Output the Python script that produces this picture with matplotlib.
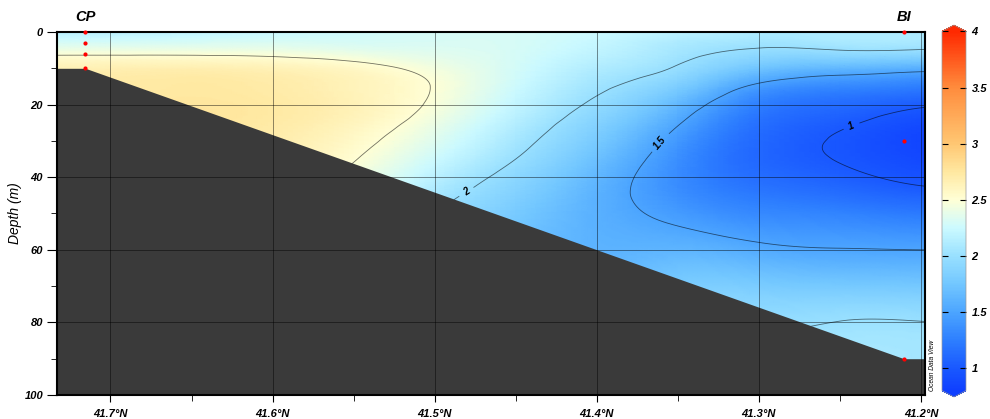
import numpy as np
import matplotlib
matplotlib.use("Agg")
import matplotlib.pyplot as plt
import matplotlib.tri as mtri
from matplotlib.colors import LinearSegmentedColormap, Normalize
from matplotlib.cm import ScalarMappable
from matplotlib.ticker import MultipleLocator

plt.rcParams['font.family'] = ['Liberation Sans', 'DejaVu Sans']
plt.rcParams['font.style'] = 'italic'
plt.rcParams['font.weight'] = 'bold'

# section grid (latitude columns, depth rows)
lats = [41.75, 41.70, 41.65, 41.60, 41.55, 41.50, 41.45, 41.40, 41.35, 41.30, 41.25, 41.20, 41.15]
depths = [0, 5, 10, 15, 20, 25, 30, 35, 40, 45, 50, 60, 70, 80, 90, 100]

profiles = [
    [2.15, 2.42, 2.64, 2.70, 2.72, 2.72, 2.71, 2.70, 2.69, 2.68, 2.66, 2.62, 2.58, 2.55, 2.52, 2.50],
    [2.17, 2.42, 2.66, 2.72, 2.74, 2.74, 2.73, 2.72, 2.70, 2.68, 2.66, 2.62, 2.58, 2.55, 2.52, 2.50],
    [2.20, 2.42, 2.67, 2.74, 2.76, 2.76, 2.74, 2.71, 2.68, 2.65, 2.62, 2.58, 2.54, 2.50, 2.46, 2.44],
    [2.24, 2.41, 2.64, 2.71, 2.73, 2.72, 2.69, 2.65, 2.61, 2.57, 2.53, 2.47, 2.42, 2.38, 2.35, 2.33],
    [2.27, 2.37, 2.57, 2.63, 2.64, 2.61, 2.56, 2.51, 2.45, 2.39, 2.33, 2.24, 2.17, 2.12, 2.10, 2.08],
    [2.30, 2.34, 2.44, 2.49, 2.47, 2.41, 2.34, 2.26, 2.17, 2.08, 2.01, 1.93, 1.88, 1.86, 1.85, 1.85],
    [2.30, 2.30, 2.29, 2.26, 2.21, 2.14, 2.07, 2.00, 1.92, 1.85, 1.79, 1.73, 1.73, 1.76, 1.80, 1.82],
    [2.25, 2.20, 2.12, 2.04, 1.96, 1.87, 1.79, 1.71, 1.64, 1.60, 1.59, 1.61, 1.67, 1.74, 1.80, 1.82],
    [2.17, 2.07, 1.98, 1.82, 1.65, 1.52, 1.42, 1.36, 1.34, 1.37, 1.44, 1.62, 1.80, 1.92, 1.98, 2.00],
    [2.10, 1.98, 1.74, 1.45, 1.26, 1.16, 1.11, 1.10, 1.14, 1.22, 1.32, 1.55, 1.80, 1.97, 2.03, 2.05],
    [2.10, 2.00, 1.64, 1.32, 1.13, 1.03, 0.98, 0.99, 1.05, 1.15, 1.28, 1.51, 1.78, 2.005, 2.06, 2.08],
    [2.09, 1.99, 1.58, 1.25, 1.03, 0.90, 0.85, 0.88, 0.95, 1.07, 1.22, 1.50, 1.77, 2.005, 2.06, 2.08],
    [2.09, 1.99, 1.58, 1.25, 1.03, 0.90, 0.85, 0.88, 0.95, 1.07, 1.22, 1.50, 1.77, 2.005, 2.06, 2.08],
]

# bottom profile and stations
bath_lat = [41.75, 41.7155, 41.2105, 41.15]
bath_depth = [10, 10, 90, 90]
cp_lat = 41.7155
cp_depths = [0, 3, 6, 10]
bi_lat = 41.2105
bi_depths = [0, 30, 90]

contour_levels = [1, 1.5, 2, 2.5]
cbar_ticks = [1, 1.5, 2, 2.5, 3, 3.5, 4]

# ODV-like colour scale
cmap_stops = [
    (0.8, (0.06, 0.25, 1.0)),
    (1.0, (0.10, 0.35, 1.0)),
    (1.25, (0.18, 0.50, 1.0)),
    (1.5, (0.30, 0.65, 1.0)),
    (1.75, (0.45, 0.78, 1.0)),
    (2.0, (0.60, 0.88, 1.0)),
    (2.25, (0.80, 0.98, 1.0)),
    (2.5, (1.0, 1.0, 0.84)),
    (2.75, (1.0, 0.91, 0.63)),
    (3.0, (1.0, 0.78, 0.45)),
    (3.5, (1.0, 0.55, 0.24)),
    (4.0, (1.0, 0.16, 0.0)),
]
vmin, vmax = 0.8, 4.0
cmap = LinearSegmentedColormap.from_list(
    'odv', [((v - vmin) / (vmax - vmin), c) for v, c in cmap_stops])
cmap.set_over((1.0, 0.16, 0.0))
cmap.set_under((0.06, 0.25, 1.0))
norm = Normalize(vmin, vmax)

# triangulate the grid and let matplotlib smooth it
field = np.array(profiles).T
X, Y = np.meshgrid(lats, depths)
ny, nx = field.shape
idx = np.arange(ny * nx).reshape(ny, nx)
a = idx[:-1, :-1].ravel()
b = idx[:-1, 1:].ravel()
c = idx[1:, 1:].ravel()
d = idx[1:, :-1].ravel()
triangles = np.concatenate([np.c_[a, b, c], np.c_[a, c, d]])
tri = mtri.Triangulation(X.ravel(), Y.ravel(), triangles)
refiner = mtri.UniformTriRefiner(tri)
tri_f, z_f = refiner.refine_field(field.ravel(), subdiv=4)

fig = plt.figure(figsize=(9.9, 4.19), dpi=100)
ax = fig.add_axes([57 / 990, 1 - 395 / 419, 868 / 990, 363 / 419])

ax.tripcolor(tri_f, z_f, shading='gouraud', cmap=cmap, norm=norm, zorder=1)
cs = ax.tricontour(tri_f, z_f, levels=contour_levels, colors='k',
                   linewidths=0.6, alpha=0.55, zorder=1.5)
labels = ax.clabel(cs, levels=[1, 1.5, 2], fmt='%g', fontsize=7, inline=True,
                   manual=[(41.244, 24.8), (41.367, 28.4), (41.480, 44.3)])
for t in labels:
    t.set_fontweight('bold')
    t.set_color('black')
    t.set_alpha(1)

ax.fill_between(bath_lat, bath_depth, 105, color='#3a3a3a', lw=0, zorder=2)

ax.plot([cp_lat] * len(cp_depths), cp_depths, 'o', color='red', ms=3,
        mew=0, zorder=3, clip_on=False)
ax.plot([bi_lat] * len(bi_depths), bi_depths, 'o', color='red', ms=3,
        mew=0, zorder=3, clip_on=False)

ax.set_xlim(41.733, 41.1975)
ax.set_ylim(100, 0)

xt = [41.7, 41.6, 41.5, 41.4, 41.3, 41.2]
ax.set_xticks(xt)
ax.set_xticklabels([f'{v:.1f}°N' for v in xt])
ax.xaxis.set_minor_locator(MultipleLocator(0.05))
ax.set_yticks([0, 20, 40, 60, 80, 100])
ax.yaxis.set_minor_locator(MultipleLocator(10))
ax.tick_params(axis='both', which='major', labelsize=8, width=0.8)
ax.tick_params(axis='y', which='major', length=7, pad=3)
ax.tick_params(axis='x', which='major', length=5, pad=5)
ax.tick_params(which='minor', length=4, width=0.6)

ax.set_axisbelow(False)
ax.grid(True, which='major', color='k', alpha=0.45, lw=0.7)
for s in ax.spines.values():
    s.set_linewidth(1.5)

ax.set_ylabel('Depth (m)', fontsize=10, labelpad=2)

ax.text(cp_lat, -3, 'CP', ha='center', va='baseline', fontsize=10.5, clip_on=False)
ax.text(bi_lat, -3, 'BI', ha='center', va='baseline', fontsize=10.5, clip_on=False)

fig.text(933 / 990, 1 - 365 / 419, 'Ocean Data View', rotation=90, fontsize=4.8,
         fontweight='normal', ha='center', va='center')

# colour bar
cax = fig.add_axes([942 / 990, 1 - 397 / 419, 24 / 990, 372 / 419])
sm = ScalarMappable(norm=norm, cmap=cmap)
cb = fig.colorbar(sm, cax=cax, extend='both', extendfrac=0.018, ticks=cbar_ticks)
cb.set_ticklabels([f'{v:g}' for v in cbar_ticks])
cb.ax.tick_params(direction='in', length=4, width=0.8, left=True, right=True,
                  labelsize=8, pad=4)
cb.outline.set_edgecolor('#999999')
cb.outline.set_linewidth(0.5)

fig.savefig('out.png', dpi=100)
